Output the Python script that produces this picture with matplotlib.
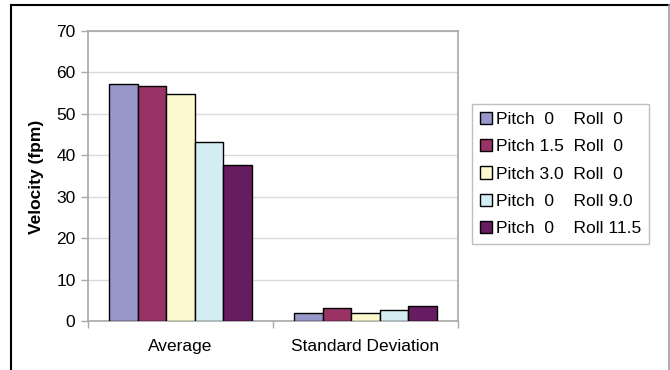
import matplotlib
matplotlib.use('Agg')
import matplotlib.pyplot as plt
import numpy as np

plt.rcParams['font.family'] = ['Liberation Sans', 'DejaVu Sans']

# data
categories = ['Average', 'Standard Deviation']
series_labels = ['Pitch  0    Roll  0',
                 'Pitch 1.5  Roll  0',
                 'Pitch 3.0  Roll  0',
                 'Pitch  0    Roll 9.0',
                 'Pitch  0    Roll 11.5']
avg_vals = [57.3, 56.7, 54.8, 43.1, 37.6]
sd_vals = [1.9, 3.2, 1.9, 2.6, 3.6]
colors = ['#9797CA', '#993366', '#FCF8D0', '#D3EDF3', '#661C60']

fig = plt.figure(figsize=(6.7, 3.7), dpi=100)
fig.patch.set_facecolor('white')
ax = fig.add_axes([88/670, 1 - 321/370, 370/670, 290/370])

x = np.arange(len(categories))
bw = 0.154
for i in range(len(series_labels)):
    vals = [avg_vals[i], sd_vals[i]]
    ax.bar(x + (i - 2) * bw, vals, bw, color=colors[i], edgecolor='black',
           linewidth=1.0, label=series_labels[i], zorder=3)

ax.set_xlim(-0.5, 1.5)
ax.set_ylim(0, 70)
ax.set_yticks(range(0, 71, 10))
ax.yaxis.grid(True, color='#DADADA', linewidth=1.0, zorder=0)
ax.set_axisbelow(True)

for s in ax.spines.values():
    s.set_color('#A8A8A8')
    s.set_linewidth(1.2)

ax.tick_params(axis='y', length=5, width=1, color='#A8A8A8', labelsize=12.5, pad=4)
ax.set_xticks(x)
ax.set_xticklabels(categories, fontsize=12.5)
ax.tick_params(axis='x', which='major', length=0, pad=13)
ax.set_xticks([-0.5, 0.5, 1.5], minor=True)
ax.tick_params(axis='x', which='minor', length=5, width=1, color='#A8A8A8')

fig.text(37/670, 0.522, 'Velocity (fpm)', rotation=90, ha='center', va='center',
         fontsize=12.5, fontweight='bold')

leg = fig.legend(loc='upper left', bbox_to_anchor=(472/670, 1 - 104/370),
                 borderaxespad=0, fontsize=12.5, fancybox=False, frameon=True,
                 handlelength=0.7, handleheight=0.7, handletextpad=0.25,
                 labelspacing=0.7, borderpad=0.45)
leg.get_frame().set_edgecolor('#B0B0B0')
leg.get_frame().set_linewidth(1.0)

# outer frame of the figure
fig.add_artist(plt.Line2D([11/670, 11/670], [0, 1 - 5/370], color='black', lw=1.5,
                          transform=fig.transFigure))
fig.add_artist(plt.Line2D([11/670, 1], [1 - 5/370, 1 - 5/370], color='black', lw=1.5,
                          transform=fig.transFigure))
fig.add_artist(plt.Line2D([669/670, 669/670], [0, 1 - 5/370], color='#A0A0A0', lw=1.2,
                          transform=fig.transFigure))

fig.savefig('out.png', dpi=100)
